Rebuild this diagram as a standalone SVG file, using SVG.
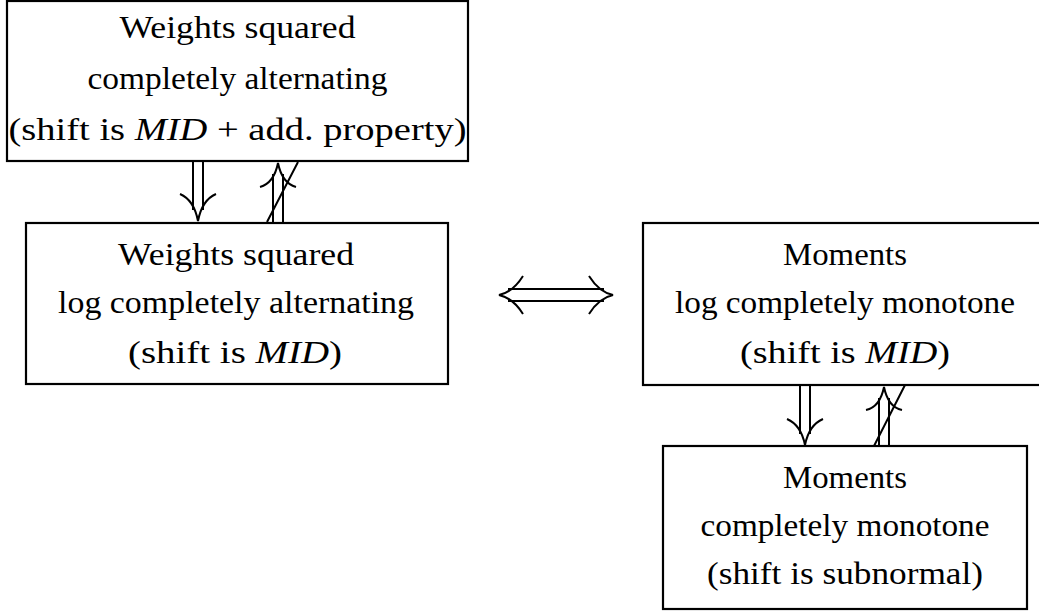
<svg xmlns="http://www.w3.org/2000/svg" width="1039" height="613" viewBox="0 0 1039 613">
<style>
.box{fill:#fff;stroke:#000;stroke-width:2.2}
.t{font-family:'Liberation Serif','Times New Roman',Times,'Tinos','DejaVu Serif','Noto Serif','FreeSerif',serif;font-size:32px;fill:#000;text-anchor:middle}
.m{font-style:italic}
.a{fill:none;stroke:#000;stroke-width:2}
</style>
<rect x="0" y="0" width="1039" height="613" fill="#fff"/>
<g id="n1">
<rect class="box" x="7" y="1" width="461" height="160"/>
<text class="t" x="237.5" y="38" textLength="236" lengthAdjust="spacingAndGlyphs" font-family="Liberation Serif, Times New Roman, DejaVu Serif, serif">Weights squared</text>
<text class="t" x="237.5" y="89" textLength="300" lengthAdjust="spacingAndGlyphs" font-family="Liberation Serif, Times New Roman, DejaVu Serif, serif">completely alternating</text>
<text class="t" x="237.5" y="140" textLength="458" lengthAdjust="spacingAndGlyphs" font-family="Liberation Serif, Times New Roman, DejaVu Serif, serif">(shift is <tspan class="m">MID</tspan> + add. property)</text>
</g>
<g id="n2">
<rect class="box" x="26" y="223" width="422" height="161"/>
<text class="t" x="236" y="265" textLength="236" lengthAdjust="spacingAndGlyphs" font-family="Liberation Serif, Times New Roman, DejaVu Serif, serif">Weights squared</text>
<text class="t" x="236" y="313" textLength="356" lengthAdjust="spacingAndGlyphs" font-family="Liberation Serif, Times New Roman, DejaVu Serif, serif">log completely alternating</text>
<text class="t" x="235" y="363" textLength="214" lengthAdjust="spacingAndGlyphs" font-family="Liberation Serif, Times New Roman, DejaVu Serif, serif">(shift is <tspan class="m">MID</tspan>)</text>
</g>
<g id="n3">
<rect class="box" x="643" y="223" width="404" height="162"/>
<text class="t" x="845" y="265" textLength="124" lengthAdjust="spacingAndGlyphs" font-family="Liberation Serif, Times New Roman, DejaVu Serif, serif">Moments</text>
<text class="t" x="845" y="313" textLength="340" lengthAdjust="spacingAndGlyphs" font-family="Liberation Serif, Times New Roman, DejaVu Serif, serif">log completely monotone</text>
<text class="t" x="845" y="363" textLength="210" lengthAdjust="spacingAndGlyphs" font-family="Liberation Serif, Times New Roman, DejaVu Serif, serif">(shift is <tspan class="m">MID</tspan>)</text>
</g>
<g id="n4">
<rect class="box" x="663" y="446" width="364" height="163"/>
<text class="t" x="845" y="488" textLength="124" lengthAdjust="spacingAndGlyphs" font-family="Liberation Serif, Times New Roman, DejaVu Serif, serif">Moments</text>
<text class="t" x="845" y="536" textLength="289" lengthAdjust="spacingAndGlyphs" font-family="Liberation Serif, Times New Roman, DejaVu Serif, serif">completely monotone</text>
<text class="t" x="845" y="584" textLength="276" lengthAdjust="spacingAndGlyphs" font-family="Liberation Serif, Times New Roman, DejaVu Serif, serif">(shift is subnormal)</text>
</g>
<g id="connectors">
<path class="a" d="M193,162 V210 M203,162 V210 M180,194 Q194,200 198,221 Q202,200 216,194"/>
<path class="a" d="M273,174 V222 M283,174 V222 M260,187 Q274,183 278,163 Q282,183 296,187 M267,222 L298,162"/>
<path class="a" d="M508,289 H604 M508,301 H604 M523,276 Q513,292 499,295 Q513,298 523,314 M589,276 Q599,292 613,295 Q599,298 589,314"/>
<path class="a" d="M800,386 V434 M810,386 V434 M787,419 Q801,425 805,445 Q809,425 823,419"/>
<path class="a" d="M879,398 V446 M889,398 V446 M866,410 Q880,407 884,387 Q888,407 902,410 M874,446 L905,385"/>
</g>
</svg>
